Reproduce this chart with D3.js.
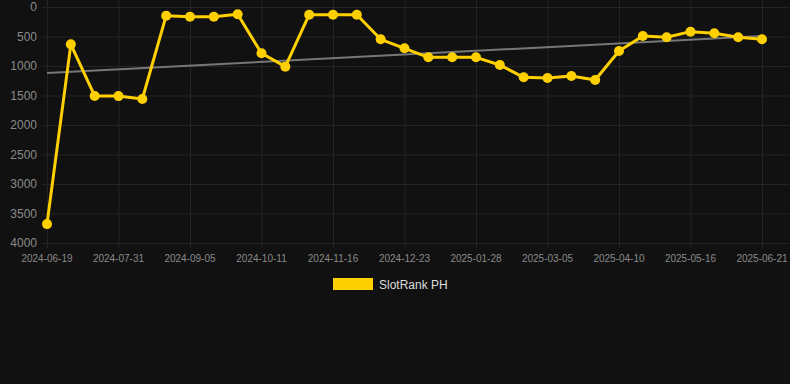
<!DOCTYPE html>
<html>
<head>
<meta charset="utf-8">
<script src="https://cdn.jsdelivr.net/npm/d3@7"></script>
<style>
  body { margin: 0; background: #111111; }
  svg { display: block; font-family: "Liberation Sans", Arial, sans-serif; }
</style>
</head>
<body>
<div class="rank-plot"></div>
<script>
// Dates for each point (one every ~12 days)
const dates = ['2024-06-19','2024-07-05','2024-07-19','2024-07-31','2024-08-12','2024-08-24',
    '2024-09-05','2024-09-17','2024-09-29','2024-10-11','2024-10-23','2024-11-04',
    '2024-11-16','2024-11-28','2024-12-11','2024-12-23','2025-01-04','2025-01-16',
    '2025-01-28','2025-02-09','2025-02-21','2025-03-05','2025-03-17','2025-03-29',
    '2025-04-10','2025-04-22','2025-05-04','2025-05-16','2025-05-28','2025-06-09','2025-06-21']

// SlotRank PH values
const ranks = [3680, 633, 1508, 1510, 1559, 147, 164, 164, 124, 785, 1011, 130,
    130, 130, 548, 700, 853, 853, 853, 983, 1192, 1203, 1169, 1237,
    746, 492, 514, 418, 446, 514, 548]

// Labels shown on the axes
const xTickLabels = ['2024-06-19','2024-07-31','2024-09-05','2024-10-11','2024-11-16',
    '2024-12-23','2025-01-28','2025-03-05','2025-04-10','2025-05-16','2025-06-21']
const yTicks = [0, 500, 1000, 1500, 2000, 2500, 3000, 3500, 4000]

const seriesName = 'SlotRank PH'

const width = 790
const height = 384
const margin = {top: 7, right: 28, bottom: 141, left: 47}

let svg = d3.select('.rank-plot')
    .append('svg')
    .attr('width', width)
    .attr('height', height)

svg.append('rect')
    .attr('width', width)
    .attr('height', height)
    .attr('fill', '#111111')

let x = d3.scalePoint()
    .domain(dates)
    .range([margin.left, width - margin.right - 0])

let y = d3.scaleLinear()
    .domain([0, 4000])
    .range([margin.top, height - margin.bottom - 0])

// Horizontal grid
svg.append('g')
    .selectAll('line')
    .data(yTicks)
    .enter()
    .append('line')
    .attr('x1', margin.left - 5)
    .attr('x2', width)
    .attr('y1', d => y(d) + 0.5)
    .attr('y2', d => y(d) + 0.5)
    .attr('stroke', '#242424')
    .attr('stroke-width', 1)

// Vertical grid at labelled dates
svg.append('g')
    .selectAll('line')
    .data(xTickLabels)
    .enter()
    .append('line')
    .attr('x1', d => x(d) + 0.5)
    .attr('x2', d => x(d) + 0.5)
    .attr('y1', margin.top - 7)
    .attr('y2', y(4000) + 5)
    .attr('stroke', '#242424')
    .attr('stroke-width', 1)

// y axis labels
svg.append('g')
    .selectAll('text')
    .data(yTicks)
    .enter()
    .append('text')
    .attr('x', 37)
    .attr('y', d => y(d) + 4)
    .attr('text-anchor', 'end')
    .attr('font-size', 12)
    .attr('fill', '#8a8a8a')
    .text(d => d)

// x axis labels
svg.append('g')
    .selectAll('text')
    .data(xTickLabels)
    .enter()
    .append('text')
    .attr('x', d => x(d))
    .attr('y', 262)
    .attr('text-anchor', 'middle')
    .attr('font-size', 10)
    .attr('fill', '#8a8a8a')
    .text(d => d)

// Trend line (least squares over point index)
let n = ranks.length
let idx = d3.range(n)
let mx = d3.mean(idx)
let my = d3.mean(ranks)
let slope = d3.sum(idx, i => (i - mx) * (ranks[i] - my)) / d3.sum(idx, i => (i - mx) * (i - mx))
let icpt = my - slope * mx

svg.append('line')
    .attr('x1', x(dates[0]))
    .attr('x2', x(dates[n - 1]))
    .attr('y1', y(icpt))
    .attr('y2', y(icpt + slope * (n - 1)))
    .attr('stroke', '#777777')
    .attr('stroke-width', 2)

// Main line
let line = d3.line()
    .x((d, i) => x(dates[i]))
    .y(d => y(d))

svg.append('path')
    .datum(ranks)
    .attr('d', line)
    .attr('fill', 'none')
    .attr('stroke', '#FFD000')
    .attr('stroke-width', 3)
    .attr('stroke-linejoin', 'round')

svg.append('g')
    .selectAll('circle')
    .data(ranks)
    .enter()
    .append('circle')
    .attr('cx', (d, i) => x(dates[i]))
    .attr('cy', d => y(d))
    .attr('r', 5)
    .attr('fill', '#FFD000')

// Legend
svg.append('rect')
    .attr('x', 333)
    .attr('y', 278)
    .attr('width', 40)
    .attr('height', 12)
    .attr('fill', '#FFD000')

svg.append('text')
    .attr('x', 379)
    .attr('y', 288.5)
    .attr('font-size', 12)
    .attr('fill', '#dddddd')
    .text(seriesName)
</script>
</body>
</html>
